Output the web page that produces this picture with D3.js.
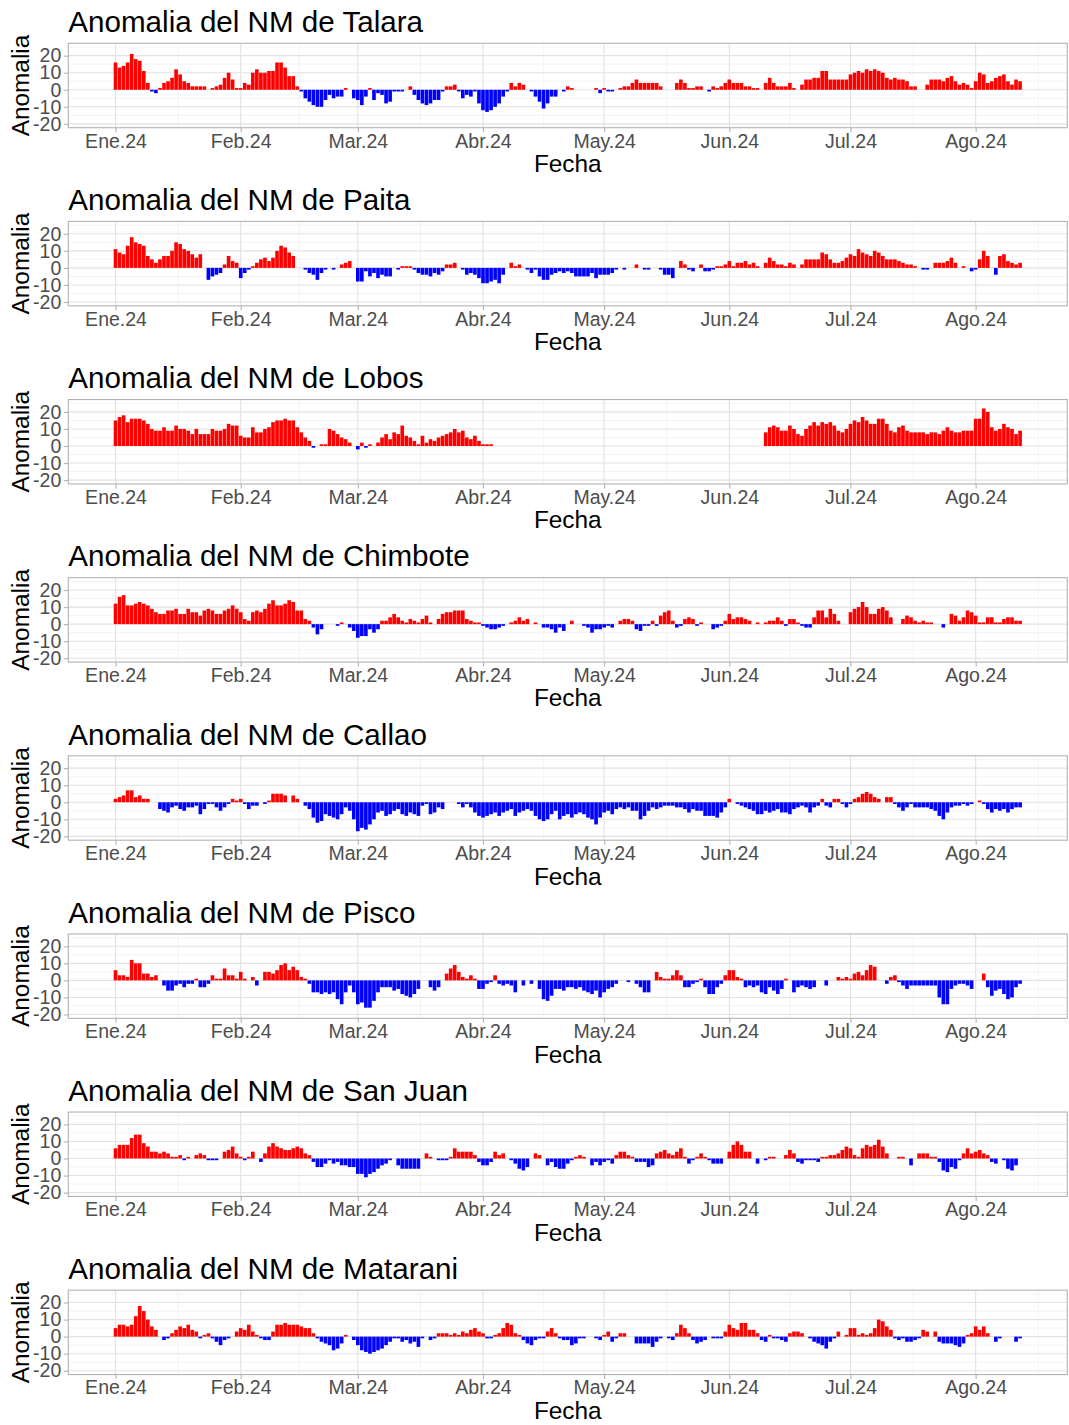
<!DOCTYPE html>
<html>
<head>
<meta charset="utf-8">
<script src="https://cdn.jsdelivr.net/npm/d3@7"></script>
<style>
  body { margin: 0; background: #ffffff; }
  svg text { font-family: "Liberation Sans", Arial, sans-serif; }
</style>
</head>
<body>
<svg id="grafico" width="1069" height="1425"></svg>
<script>
// anomalias diarias del nivel medio del mar (cm), enero - agosto 2024
// cada serie: [dia desde 01-ene, [valores consecutivos]]; los dias sin dato se omiten
const estaciones = ["Talara", "Paita", "Lobos", "Chimbote", "Callao", "Pisco", "San Juan", "Matarani"];
const mesesAbrev = ["Ene", "Feb", "Mar", "Abr", "May", "Jun", "Jul", "Ago", "Sep"];
const ultimoDia = 224;

const talara = [
  [0, [16,13,14,16,21,18,17,11,4,-1,-2,1,4,5,7,12,9,5,4,2,2,2,2]],
  [24, [1,2,3,7,10,6,1,1,4,3,10,12,10,10,11,11,16,16,13,8,8,2,-1,-5,-7,-9,-10,-10,-6,-3,-5,-4,-4,1]],
  [59, [-5,-6,-9,-4,1,-6,-2,-3,-8,-7,-1,-1,-1]],
  [73, [2,-3,-6,-8,-9,-8,-6,-6,-1,2,2,3,-1,-5,-3,-4,-1,-8,-12,-13,-12,-10,-8,-4,-1,4,2,4,3]],
  [103, [-1,-4,-7,-11,-8,-4,-4]],
  [111, [-1,2,1]],
  [119, [1,-2,1,-1,-1]],
  [125, [1,2,2,4,6,4,4,4,4,4,2]],
  [139, [4,6,4,1,1,2,2]],
  [147, [-1,2,1,2,4,6,4,4,4,2,2,1,1]],
  [161, [4,7,4,2,2,2,4,1]],
  [170, [3,6,6,7,7,11,11,6,6,6,6,6,9,10,11,10,12,11,12,11,10,7,6,7,6,6,5,2,2]],
  [201, [3,6,6,6,5,7,8,5,3,4,3,1,5,10,9,4,5,7,8,9,5,3,6,5]]
];

const paita = [
  [0, [11,9,8,13,18,15,14,13,7,5,3,5,7,7,10,15,14,11,10,8,6,8]],
  [23, [-7,-5,-4,-3,2,7,4,3,-6,-3,-1,1,3,5,6,4,6,10,13,12,9,7]],
  [47, [-1,-3,-4,-7,-3,-1]],
  [54, [-1]],
  [56, [2,3,4]],
  [60, [-8,-8,-2,-5,-3,-6,-4,-5,-5]],
  [70, [-1,1,1,1,-1,-3,-4,-4,-5,-3,-4,-2,2,2,3]],
  [86, [-1,-4,-3,-4,-6,-9,-9,-8,-7,-9,-4]],
  [98, [3,1,2]],
  [102, [-1,-3,-1,-5,-7,-7,-4,-3,-2,-3,-2,-3,-5,-5,-5,-5,-3,-6,-4,-4,-4,-3,-1]],
  [126, [-1]],
  [129, [2]],
  [131, [-1,-1]],
  [135, [-1,-4,-4,-6]],
  [140, [4,2,-1,-2]],
  [145, [2,-2,-2,-1,1,1,2,4,1,3,3,4,2,3,1]],
  [161, [3,6,4,2,2,1,3,2]],
  [170, [2,5,5,5,5,9,8,5,3,3,4,6,8,7,11,9,8,7,10,9,7,5,5,5,4,3,2,2,1]],
  [200, [-1,-1]],
  [203, [3,3,3,4,6,3]],
  [210, [1]],
  [212, [-2,-1,5,10,7]],
  [218, [-4,7,8,4,3,2,3]]
];

const lobos = [
  [0, [15,17,18,14,16,16,16,15,13,10,9,9,11,9,9,12,10,10,9,7,10,7,7,7,10,9,9,10,13,12,12,6,5,5,11,8,8,10,11,14,15,15,16,15,15,11,8,5,3,-1]],
  [51, [1,1,10,9,7,5,4,2]],
  [60, [-2,2,-1,1]],
  [65, [2,5,7,4,8,7,12,6,5,3,1,6,2,4,3,5,6,7,8,10,8,9,5,4,6,3,1,1,1]],
  [161, [8,11,12,11,9,9,12,10,7,6,10,12,14,12,14,13,14,12,9,8,10,13,15,14,17,15,13,13,16,16,13,9,8,11,12,9,8,8,8,8,7,8,8,7,9,11,9,8,8,9,9,9,16,16,22,20,11,9,10,13,11,10,7,9]]
];

const chimbote = [
  [0, [12,16,17,11,11,12,13,12,11,9,7,6,6,8,8,9,6,6,9,7,7,5,8,9,8,6,6,8,9,11,9,7,3,2,7,8,7,9,12,14,11,11,12,14,13,8,8,3,2,-2,-6,-3]],
  [55, [-1,1]],
  [58, [-2,-4,-8,-7,-7,-3,-5,-3,2,2,4,6,4,2,1,3,2,1,3,5,1]],
  [80, [3,6,7,7,8,8,8,3,2,1,1,-1,-2,-3,-3,-2,-1]],
  [98, [1,2,4,2,3]],
  [104, [1]],
  [106, [-2,-2,-3,-5,-2,-4]],
  [113, [2]],
  [116, [-1,-2,-5,-3,-3,-2,-1,-2]],
  [125, [2,3,3,2,-3,-4,-1,-1,2,-1,5,7,8,2,-2,-1,3,4,3,-1,1]],
  [148, [-3,-2,-1,2,6,3,4,4,3,2]],
  [159, [1]],
  [161, [1,2,2,4,2,-1,3,3,1,-1,-2,-2,4,8,8,4,9,6,2]],
  [182, [7,9,10,13,10,6,6,9,10,8,4]],
  [195, [3,5,4,2,1,2,1,1]],
  [205, [-2]],
  [207, [6,5,2,4,8,7,5,1,1,4,4,1,1,3,4,4,2,2]]
];

const callao = [
  [0, [2,3,4,7,7,3,4,2,2]],
  [11, [-4,-5,-6,-3,-2,-4,-5,-3,-3,-2,-7,-4,-1,-1,-3,-5,-3,-1,2,1,2,-1,-4,-2,-2]],
  [37, [-1,1,5,5,5,4]],
  [44, [4,2]],
  [47, [-2,-4,-9,-12,-11,-7,-8,-9,-10,-7,-3,-5,-10,-17,-15,-16,-13,-10,-6,-5,-8,-7,-5,-4,-7,-8,-6,-7,-8,-2,-1,-7,-6,-3,-4]],
  [85, [-1,-3,-1,-3,-6,-8,-9,-8,-7,-6,-8,-6,-5,-4,-8,-6,-5,-4,-5,-8,-10,-11,-10,-7,-5,-10,-8,-7,-9,-7,-6,-7,-9,-10,-13,-9,-6,-5,-7,-4,-3,-4,-3,-5,-5,-10,-8,-5,-3,-4,-3,-2,-2,-2,-3,-3,-4,-6,-4,-5,-5,-8,-8,-8,-9,-6,-3,2]],
  [154, [-1,-2,-3,-4,-5,-7,-7,-5,-6,-5,-4,-6,-6,-7,-4,-3,-2,-3,-6,-3,-2,2,-2,-3,2,2,-1,-3,-1,2,3,5,6,5,3,2]],
  [191, [3,3,-1,-3,-5,-3,-1,-3,-3,-3,-3,-4,-5,-8,-10,-6,-3,-2,-2,-1,-2,-1]],
  [214, [1,-1,-4,-6,-4,-5,-4,-6,-4,-3,-3]]
];

const pisco = [
  [0, [6,3,3,2,12,10,10,4,4,2,3]],
  [12, [-3,-6,-6,-3,-2,-4,-2,-2,1,-4,-4,-2,3,1,1,7,3,3,1,5,1]],
  [34, [2,-3]],
  [37, [5,5,4,6,9,10,6,8,6,2,1,-2,-7,-7,-8,-7,-8,-7,-11,-14,-7,-3,-7,-14,-13,-16,-16,-12,-7,-4,-4,-4,-6,-5,-8,-9,-10,-8,-5]],
  [78, [-4,-6,-4]],
  [82, [4,7,9,5,2,1,3,1,-5,-5,-2,-1,3,-2,-3,-2,-3,-7]],
  [101, [-3]],
  [103, [-2]],
  [105, [-5,-11,-12,-9,-5,-5,-6,-4,-4,-5,-4,-6,-7,-8,-6,-10,-7,-5,-4,-2]],
  [127, [-1]],
  [129, [-2,-4,-7,-7]],
  [134, [5,2,1,1,3,6,3,-4,-4,-2,-1,1,-4,-8,-8,-4,-2,3,6,6,2,1,-4,-3,-4,-3,-7,-8,-4,-6,-8,-5,1]],
  [168, [-7,-4,-3,-4,-5,-4]],
  [176, [-3]],
  [179, [2,1,2,1,4,5,3,6,9,8]],
  [191, [-2,2,3,-1,-3,-5,-3,-3,-3,-3,-3,-3,-3,-10,-14,-14,-5,-3,-2,-2,-3,-5]],
  [215, [4,-4,-9,-6,-5,-8,-11,-10,-4,-2]]
];

const sanJuan = [
  [0, [6,8,8,8,12,14,14,9,7,4,4,3,4,3,1,1,2,-1,1]],
  [20, [2,3,2,-1,-1,-1]],
  [27, [4,5,7,3,1,-1,1,4]],
  [36, [-2,3,7,9,7,6,5,5,6,7,6,3,2,-2,-5,-5,-3,-1,-3,-2,-4,-4,-5,-5,-9,-9,-11,-9,-8,-6,-4,-3,-1]],
  [70, [-4,-6,-6,-6,-6,-6]],
  [77, [3,1]],
  [80, [-1,-1,-1,1,6,4,4,4,4,2,-2,-4,-4,-2,4,2,3]],
  [98, [-1,-3,-6,-7,-5]],
  [104, [3,2]],
  [107, [-4,-2,-5,-6,-6,-3,-1,1,2,1]],
  [118, [-4,-2,-4,-2,-1,-3,2,4,4,2,1,-2,-2,-2,-5,-4,3,4,5,3,2,4,6,1,-3,-1,1,3,1,-1,-3,-3,-3]],
  [152, [4,8,10,8,4,4]],
  [159, [-3]],
  [161, [-1,1,1]],
  [166, [2,5,3,-2,-3,-1,-1,-1,-2,1,1,2,2,3,5,7,6,2,1,6,8,7,8,11,7,3]],
  [194, [1,1]],
  [197, [-4]],
  [199, [3,3,3,1,1,-2,-7,-8,-5,-6,-1,3,6,3,4,5,3,2,-2,-3]],
  [220, [-1,-6,-7,-4]]
];

const matarani = [
  [0, [5,7,7,6,7,12,18,15,10,6,4]],
  [12, [-2,-1,2,4,6,5,7,4,3,-1,1,2,-1,-3,-5,-2,-1]],
  [30, [3,5,4,7,3,1,-1,-2,-2,3,7,7,8,7,7,7,6,5,5,2,-1,-3,-4,-5,-8,-7,-4,1]],
  [59, [-2,-5,-8,-9,-10,-9,-8,-7,-5,-3,-1,-1,-3,-2,-4,-3,-6,-1]],
  [78, [-2,-1,2,2,2,1,2,1,3,2,4,5,3,2,-1,-1,1,2,5,8,7,2,1,-2,-4,-5,-2,-1,-1,3,5,2,-1,-2,-2,-5,-4,-1,-1]],
  [119, [-1,-2,1,3,-3,-1,2,2]],
  [129, [-4,-4,-4,-4,-6,-3,-1]],
  [137, [-1,-2,2,7,5,2,-2,-4,-3,-2]],
  [148, [-1,-1,-1,3,7,5,4,8,8,4,4,2,-2,-3,1,-1,-1,-2,-3,2,3,3,2]],
  [172, [-1,-3,-4,-5,-7,-3,-1,3]],
  [181, [1,5,5,1,2,1,2,5,10,9,6,4,-1,-2,-1,-3,-3,-2,-1,4,3]],
  [203, [3,-3,-4,-4,-4,-5,-6,-4,1,2,6,4,6,2]],
  [218, [-3,-1]],
  [223, [-3,-1]]
];

const series = [talara, paita, lobos, chimbote, callao, pisco, sanJuan, matarani];

// pasar los tramos a una lista de {fecha, valor}
const inicio = new Date(2024, 0, 1);
function aPuntos(tramos) {
  const puntos = [];
  tramos.forEach(([dia, valores]) => {
    valores.forEach((v, i) => {
      puntos.push({ fecha: d3.timeDay.offset(inicio, dia + i), valor: v });
    });
  });
  return puntos;
}

const svg = d3.select("#grafico");
const altoPanel = 1425 / 8;

// limites del panel dentro de cada grafico
const izq = 68.3, der = 1067.3, arriba = 43.3, abajo = 127.7;

// eje x: barras de 0.9 dias + expansion del 5%
const fin = d3.timeDay.offset(inicio, ultimoDia);
const spanDias = ultimoDia + 0.9;
const pad = 0.05 * spanDias;
const msDia = 864e5;
const x = d3.scaleTime()
  .domain([new Date(+inicio - (0.45 + pad) * msDia), new Date(+fin + (0.45 + pad) * msDia)])
  .range([izq, der]);

// ylim(-20, 25) con expansion del 5%
const y = d3.scaleLinear()
  .domain([-20 - 2.25, 25 + 2.25])
  .range([abajo, arriba]);

const meses = d3.timeMonth.range(d3.timeMonth.floor(x.domain()[0]), x.domain()[1]).filter(d => d >= x.domain()[0]);
const mesesMenores = [];
for (let m = 0; m < 8; m++) {
  const a = new Date(2024, m, 1), b = new Date(2024, m + 1, 1);
  const mid = new Date((+a + +b) / 2);
  if (mid > x.domain()[0] && mid < x.domain()[1]) mesesMenores.push(mid);
}
const yMayores = [-20, -10, 0, 10, 20];
const yMenores = [-15, -5, 5, 15, 25];
const anchoBarra = x(d3.timeDay.offset(inicio, 1)) - x(inicio);

estaciones.forEach((nombre, i) => {
  const g = svg.append("g").attr("transform", `translate(0,${i * altoPanel})`);
  const datos = aPuntos(series[i]);

  // fondo
  g.append("rect")
    .attr("x", izq).attr("y", arriba)
    .attr("width", der - izq).attr("height", abajo - arriba)
    .attr("fill", "#ffffff");

  // grilla menor
  g.selectAll(".gx-menor").data(mesesMenores).enter().append("line")
    .attr("x1", d => x(d)).attr("x2", d => x(d))
    .attr("y1", arriba).attr("y2", abajo)
    .attr("stroke", "#efefef").attr("stroke-width", 0.7);
  g.selectAll(".gy-menor").data(yMenores).enter().append("line")
    .attr("x1", izq).attr("x2", der)
    .attr("y1", d => y(d)).attr("y2", d => y(d))
    .attr("stroke", "#efefef").attr("stroke-width", 0.7);

  // grilla mayor
  g.selectAll(".gx-mayor").data(meses).enter().append("line")
    .attr("x1", d => x(d)).attr("x2", d => x(d))
    .attr("y1", arriba).attr("y2", abajo)
    .attr("stroke", "#e2e2e2").attr("stroke-width", 1.1);
  g.selectAll(".gy-mayor").data(yMayores).enter().append("line")
    .attr("x1", izq).attr("x2", der)
    .attr("y1", d => y(d)).attr("y2", d => y(d))
    .attr("stroke", "#e2e2e2").attr("stroke-width", 1.1);

  // barras
  g.selectAll(".barra").data(datos).enter().append("rect")
    .attr("x", d => x(d.fecha) - anchoBarra * 0.45)
    .attr("width", anchoBarra * 0.9)
    .attr("y", d => y(Math.max(0, d.valor)))
    .attr("height", d => Math.abs(y(d.valor) - y(0)))
    .attr("fill", d => d.valor >= 0 ? "#ff0000" : "#0000ff");

  // borde del panel
  g.append("rect")
    .attr("x", izq).attr("y", arriba)
    .attr("width", der - izq).attr("height", abajo - arriba)
    .attr("fill", "none").attr("stroke", "#b3b3b3").attr("stroke-width", 1.1);

  // ejes
  const ejeX = g.append("g").attr("transform", `translate(0,${abajo})`)
    .call(d3.axisBottom(x).tickValues(meses).tickSize(4.5).tickPadding(1.5)
      .tickFormat(d => mesesAbrev[d.getMonth()] + "." + String(d.getFullYear()).slice(2)));
  const ejeY = g.append("g").attr("transform", `translate(${izq},0)`)
    .call(d3.axisLeft(y).tickValues(yMayores).tickSize(4.5).tickPadding(2.5)
      .tickFormat(d => String(d)));  // guion simple como en R

  [ejeX, ejeY].forEach(eje => {
    eje.select(".domain").remove();
    eje.selectAll(".tick line").attr("stroke", "#b3b3b3").attr("stroke-width", 1.1);
    eje.selectAll(".tick text")
      .attr("fill", "#4d4d4d")
      .style("font-size", "19.5px")
      .style("font-family", "'Liberation Sans', Arial, sans-serif");
  });

  // titulo
  g.append("text")
    .attr("x", izq).attr("y", 32)
    .style("font-size", "29.6px")
    .attr("fill", "#000000")
    .text("Anomalia del NM de " + nombre);

  // titulos de los ejes
  g.append("text")
    .attr("x", (izq + der) / 2).attr("y", 172)
    .attr("text-anchor", "middle")
    .style("font-size", "24.4px")
    .text("Fecha");

  g.append("text")
    .attr("transform", `translate(28.5,${(arriba + abajo) / 2}) rotate(-90)`)
    .attr("text-anchor", "middle")
    .style("font-size", "24.4px")
    .text("Anomalia");
});
</script>
</body>
</html>
